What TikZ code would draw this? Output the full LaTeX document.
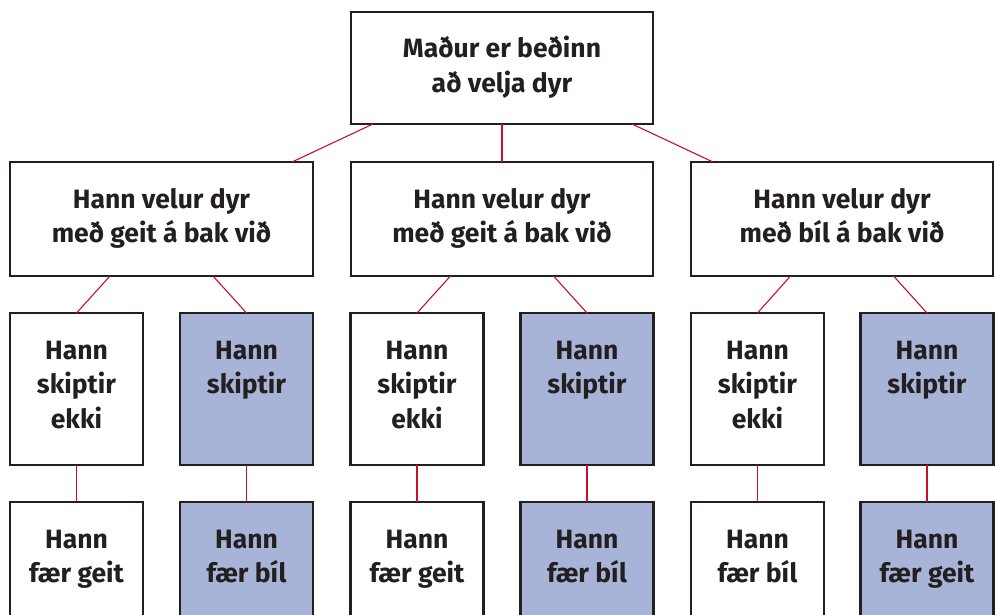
\documentclass[tikz,border=0pt]{standalone}
\usepackage{fontspec}
\setmainfont{Fira Sans}
\usetikzlibrary{calc}
\definecolor{boxborder}{HTML}{231F20}
\definecolor{boxblue}{HTML}{A7B4D7}
\definecolor{linkred}{HTML}{C8102E}
\newcommand{\boxtext}[3]{\parbox[c][#2pt][t]{#1pt}{\centering\rule{0pt}{46pt}#3}}
\tikzset{
  tbox/.style={draw=boxborder, line width=2.4pt, fill=white, inner sep=0pt, outer sep=0pt,
    font=\fontsize{26.5}{34.5}\selectfont\bfseries, text=boxborder},
  bluebox/.style={tbox, fill=boxblue},
  link/.style={draw=linkred, line width=1.1pt}
}
\begin{document}
\begin{tikzpicture}[x=1pt,y=-1pt]
\path[use as bounding box, clip] (0,0) rectangle (995,615);
% top
\node[tbox] (T) at (502,68) {\boxtext{302}{112}{Maður er beðinn\\að velja dyr}};
% level 2
\node[tbox] (A) at (161.5,219) {\boxtext{303}{114}{Hann velur dyr\\með geit á bak við}};
\node[tbox] (B) at (502,219) {\boxtext{302}{114}{Hann velur dyr\\með geit á bak við}};
\node[tbox] (C) at (842,219) {\boxtext{302}{114}{Hann velur dyr\\með bíl á bak við}};
% level 3
\node[tbox] (A1) at (76.5,389) {\boxtext{133}{152}{Hann\\skiptir\\ekki}};
\node[bluebox] (A2) at (246.5,389) {\boxtext{133}{152}{Hann\\skiptir}};
\node[tbox] (B1) at (417,389) {\boxtext{133}{152}{Hann\\skiptir\\ekki}};
\node[bluebox] (B2) at (587,389) {\boxtext{133}{152}{Hann\\skiptir}};
\node[tbox] (C1) at (757.5,389) {\boxtext{133}{152}{Hann\\skiptir\\ekki}};
\node[bluebox] (C2) at (927,389) {\boxtext{133}{152}{Hann\\skiptir}};
% level 4
\node[tbox] (A1r) at (76.5,566) {\boxtext{133}{128}{Hann\\fær geit}};
\node[bluebox] (A2r) at (246.5,566) {\boxtext{133}{128}{Hann\\fær bíl}};
\node[tbox] (B1r) at (417,566) {\boxtext{133}{128}{Hann\\fær geit}};
\node[bluebox] (B2r) at (587,566) {\boxtext{133}{128}{Hann\\fær bíl}};
\node[tbox] (C1r) at (757.5,566) {\boxtext{133}{128}{Hann\\fær bíl}};
\node[bluebox] (C2r) at (927,566) {\boxtext{133}{128}{Hann\\fær geit}};
% connectors
\draw[link] ($(T.south)+(-129,0)$) -- ($(A.north)+(130.5,0)$);
\draw[link] (T.south) -- (B.north);
\draw[link] ($(T.south)+(130,0)$) -- ($(C.north)+(-129,0)$);
\foreach \p/\c/\d in {A/A1/A2, B/B1/B2, C/C1/C2}{
  \draw[link] ($(\p.south)+(-51.5,0)$) -- (\c.north);
  \draw[link] ($(\p.south)+(51.5,0)$) -- (\d.north);
}
\foreach \u/\v in {A1/A1r, A2/A2r, B1/B1r, B2/B2r, C1/C1r, C2/C2r}{
  \draw[link] (\u.south) -- (\v.north);
}
\end{tikzpicture}
\end{document}
